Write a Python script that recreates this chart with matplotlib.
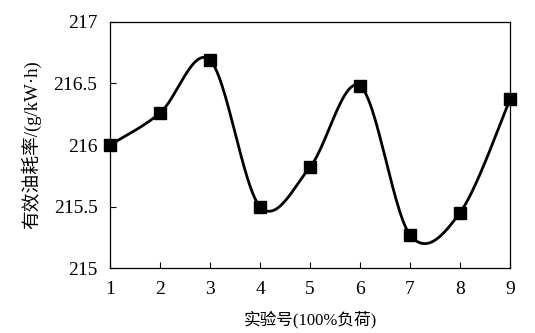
import matplotlib
matplotlib.use("Agg")
import matplotlib.pyplot as plt
import numpy as np

plt.rcParams['font.family'] = ['Liberation Serif', 'Noto Sans CJK SC', 'DejaVu Sans']

runs = [1, 2, 3, 4, 5, 6, 7, 8, 9]
bsfc = [216.0, 216.26, 216.69, 215.5, 215.82, 216.48, 215.27, 215.45, 216.37]


def smooth_line(x, y, n=30):
    """
    spreadsheet style smoothed line (bezier through each point)
    """
    x = np.asarray(x, float)
    y = np.asarray(y, float)
    xp = np.concatenate([[x[0]], x, [x[-1]]])
    yp = np.concatenate([[y[0]], y, [y[-1]]])
    t = np.linspace(0, 1, n)[:, None]
    xs, ys = [], []
    for i in range(1, len(x)):
        p0 = np.array([xp[i], yp[i]])
        p3 = np.array([xp[i + 1], yp[i + 1]])
        p1 = p0 + (p3 - np.array([xp[i - 1], yp[i - 1]])) / 6
        p2 = p3 - (np.array([xp[i + 2], yp[i + 2]]) - p0) / 6
        seg = ((1 - t) ** 3 * p0 + 3 * (1 - t) ** 2 * t * p1
               + 3 * (1 - t) * t ** 2 * p2 + t ** 3 * p3)
        xs.append(seg[:, 0])
        ys.append(seg[:, 1])
    return np.concatenate(xs), np.concatenate(ys)


fig = plt.figure(figsize=(5.35, 3.33), dpi=100)
ax = fig.add_axes([0.2056, 0.195, 0.7477, 0.739])

sx, sy = smooth_line(runs, bsfc)
ax.plot(sx, sy, color='black', lw=2.0, zorder=2)
ax.plot(runs, bsfc, 's', color='black', ms=9, zorder=3, clip_on=False)

ax.set_xlim(1, 9)
ax.set_ylim(215, 217)
ax.set_xticks(runs)
ax.set_yticks([215, 215.5, 216, 216.5, 217])
ax.set_yticklabels(['215', '215.5', '216', '216.5', '217'])
ax.tick_params(direction='in', length=4, width=0.8, labelsize=14, color='black')
ax.tick_params(axis='y', pad=9)
ax.tick_params(axis='x', pad=9)
for s in ax.spines.values():
    s.set_linewidth(0.9)
    s.set_color('black')

ax.set_xlabel('实验号(100%负荷)', fontsize=12, labelpad=9)
ax.set_ylabel('有效油耗率/(g/kW·h)', fontsize=13.5, labelpad=9)

fig.savefig('out.png', dpi=100)
